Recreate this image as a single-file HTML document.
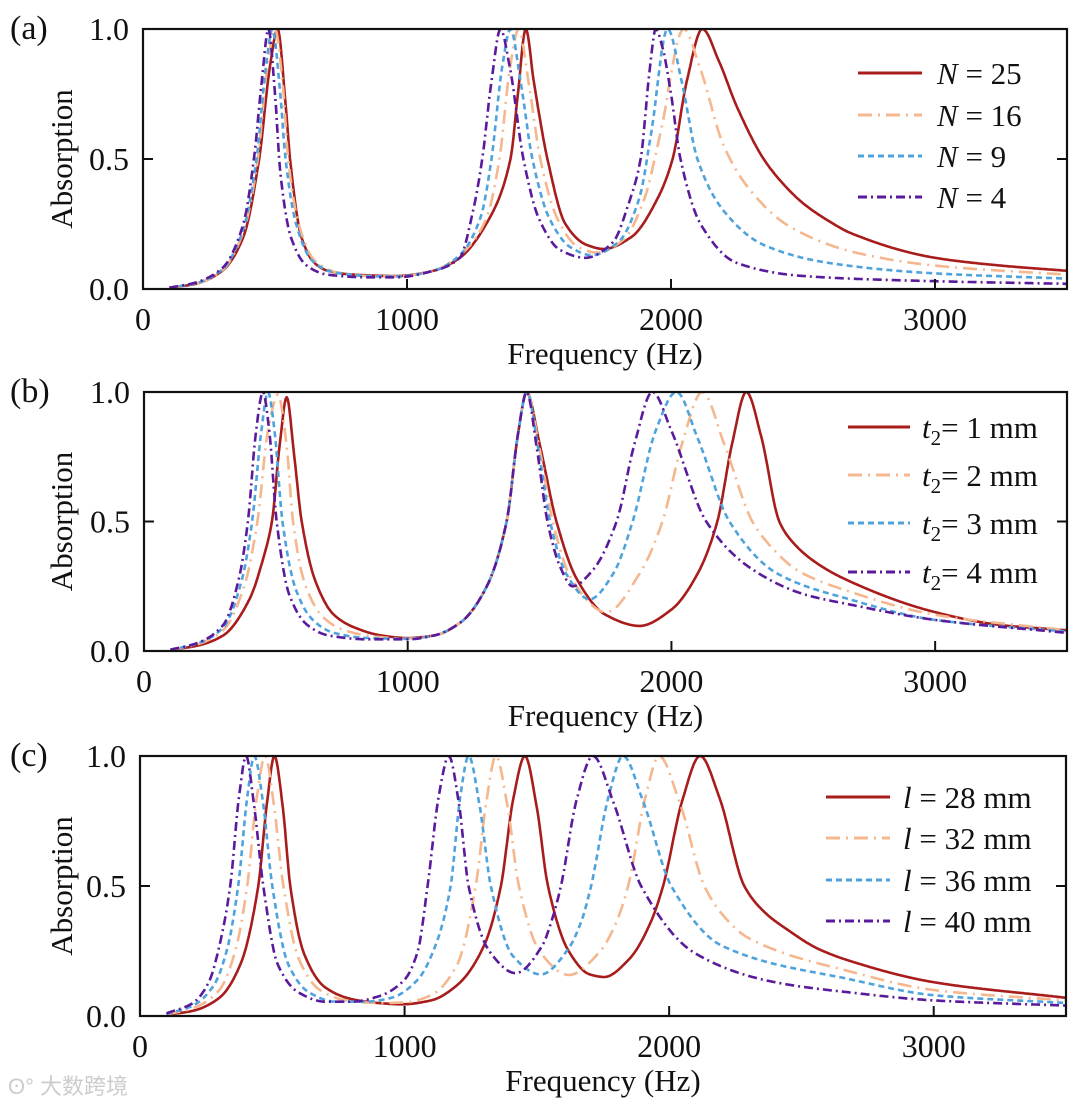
<!DOCTYPE html>
<html><head><meta charset="utf-8">
<style>
html,body{margin:0;padding:0;background:#fff;}
svg text{font-family:"Liberation Serif",serif;fill:#111;}
</style></head>
<body>
<svg id="fig" width="1080" height="1106" viewBox="0 0 1080 1106" xmlns="http://www.w3.org/2000/svg">
<text x="8" y="1094" font-size="22" style="fill:#ccc;font-family:'Liberation Sans','Noto Sans CJK SC',sans-serif">ʘ° 大数跨境</text>
</svg>
<script>
// ----- Panel (a): N -----
const aNames = ["N = 25","N = 16","N = 9","N = 4"];
const aN25 = [[100,.005],[200,.02],[300,.07],[380,.2],[440,.5],[480,.85],[510,1],[540,.71],[557,.5],[600,.2],[650,.1],[700,.07],[800,.055],[960,.05],[1100,.07],[1200,.12],[1300,.25],[1392,.5],[1420,.75],[1450,1],[1480,.8],[1532,.5],[1600,.25],[1680,.17],[1745,.154],[1850,.2],[1950,.35],[2006,.5],[2060,.8],[2119,1],[2180,.88],[2250,.7],[2351,.5],[2420,.41],[2500,.33],[2600,.26],[2681,.215],[3000,.12],[3250,.09],[3500,.07]];
const aN16 = [[100,.005],[200,.02],[300,.072],[380,.22],[435,.5],[470,.85],[500,1],[530,.78],[550,.5],[590,.25],[650,.11],[730,.065],[850,.05],[960,.048],[1100,.07],[1200,.13],[1300,.27],[1350,.5],[1390,.85],[1423,1],[1460,.8],[1505,.5],[1570,.27],[1650,.16],[1720,.14],[1820,.19],[1900,.35],[1960,.6],[2048,1],[2110,.85],[2200,.55],[2300,.38],[2450,.24],[2700,.14],[3000,.09],[3500,.055]];
const aN9 = [[100,.005],[200,.022],[300,.075],[380,.23],[430,.5],[465,.85],[490,1],[520,.75],[540,.5],[580,.25],[640,.11],[720,.065],[850,.05],[960,.048],[1100,.07],[1200,.13],[1280,.28],[1320,.5],[1360,.85],[1392,1],[1430,.8],[1475,.5],[1540,.27],[1620,.16],[1700,.13],[1800,.18],[1880,.35],[1925,.6],[1987,1],[2040,.8],[2100,.5],[2200,.3],[2350,.17],[2600,.1],[3000,.06],[3500,.04]];
const aN4 = [[100,.005],[200,.025],[300,.08],[380,.25],[420,.5],[450,.8],[475,1],[500,.75],[520,.45],[560,.2],[620,.09],[700,.055],[850,.045],[960,.045],[1100,.07],[1200,.12],[1250,.3],[1285,.5],[1320,.8],[1354,1],[1390,.85],[1441,.5],[1500,.27],[1580,.15],[1676,.12],[1780,.18],[1840,.33],[1885,.5],[1920,.85],[1942,1],[1970,.92],[2000,.75],[2036,.5],[2112,.25],[2250,.1],[2500,.05],[3000,.03],[3500,.02]];
// ----- Panel (b): t2 -----
const bNames = ["1 mm","2 mm","3 mm","4 mm"];
const bT1 = [[100,.005],[200,.02],[300,.06],[400,.2],[450,.35],[485,.5],[515,.8],[541,.98],[570,.75],[598,.5],[650,.27],[720,.14],[800,.09],[900,.06],[1000,.05],[1100,.06],[1200,.11],[1300,.25],[1375,.5],[1420,.85],[1451,1],[1500,.8],[1564,.5],[1640,.28],[1750,.14],[1879,.097],[2000,.16],[2100,.3],[2174,.5],[2230,.8],[2284,1],[2340,.83],[2409,.5],[2460,.42],[2550,.34],[2674,.27],[3000,.15],[3250,.1],[3500,.08]];
const bT2 = [[100,.005],[200,.025],[300,.08],[380,.25],[430,.5],[470,.85],[508,.99],[540,.8],[565,.5],[610,.26],[680,.13],[760,.08],[880,.055],[1000,.048],[1100,.06],[1200,.11],[1300,.25],[1375,.5],[1420,.85],[1451,1],[1500,.78],[1550,.5],[1620,.28],[1753,.15],[1880,.3],[1966,.5],[2040,.8],[2117,1],[2200,.8],[2307,.5],[2380,.4],[2480,.31],[2674,.23],[3000,.14],[3500,.08]];
const bT3 = [[100,.005],[200,.028],[300,.09],[370,.27],[410,.5],[445,.85],[470,1],[495,.85],[525,.5],[575,.24],[640,.12],[720,.07],[850,.05],[1000,.047],[1100,.06],[1200,.11],[1300,.25],[1375,.5],[1420,.85],[1451,1],[1495,.78],[1540,.5],[1600,.3],[1690,.2],[1780,.3],[1853,.5],[1940,.85],[2019,1],[2100,.82],[2220,.5],[2400,.3],[2674,.2],[3000,.12],[3500,.075]];
const bT4 = [[100,.005],[200,.03],[300,.1],[360,.28],[394,.5],[425,.85],[451,1],[475,.85],[503,.5],[550,.22],[620,.1],[700,.06],[850,.045],[1000,.045],[1100,.06],[1200,.11],[1300,.25],[1375,.5],[1420,.85],[1451,1],[1490,.78],[1530,.5],[1580,.32],[1625,.25],[1700,.31],[1792,.5],[1860,.8],[1928,1],[2000,.85],[2132,.5],[2300,.32],[2500,.22],[2674,.18],[3000,.12],[3500,.07]];
// ----- Panel (c): l -----
const cNames = ["l = 28 mm","l = 32 mm","l = 36 mm","l = 40 mm"];
const cL28 = [[100,.005],[200,.02],[300,.07],[380,.2],[447,.5],[480,.82],[508,1],[540,.8],[568,.5],[620,.24],[700,.11],[800,.065],[900,.05],[990,.045],[1100,.06],[1200,.12],[1300,.27],[1364,.5],[1410,.83],[1455,1],[1500,.8],[1542,.5],[1620,.25],[1700,.16],[1754,.15],[1850,.22],[1930,.36],[1977,.5],[2050,.83],[2117,1],[2190,.84],[2284,.5],[2360,.4],[2450,.33],[2560,.26],[2689,.21],[3000,.13],[3500,.07]];
const cL32 = [[100,.006],[200,.03],[300,.1],[360,.25],[405,.5],[440,.83],[473,1],[505,.82],[542,.5],[600,.22],[680,.1],[780,.06],[900,.05],[1000,.052],[1100,.08],[1200,.2],[1269,.5],[1310,.83],[1345,1],[1390,.8],[1432,.5],[1510,.25],[1621,.158],[1740,.25],[1800,.36],[1845,.5],[1910,.84],[1962,1],[2040,.82],[2133,.5],[2210,.38],[2300,.3],[2689,.17],[3000,.1],[3500,.06]];
const cL36 = [[100,.008],[200,.04],[280,.12],[330,.26],[371,.5],[405,.84],[432,1],[465,.82],[500,.5],[560,.2],[640,.09],[740,.055],[850,.055],[950,.07],[1050,.14],[1120,.28],[1174,.5],[1210,.84],[1242,1],[1285,.8],[1326,.5],[1410,.23],[1515,.16],[1620,.26],[1670,.37],[1705,.5],[1770,.84],[1826,1],[1900,.83],[2008,.5],[2200,.27],[2689,.14],[3000,.08],[3500,.05]];
const cL40 = [[100,.01],[200,.05],[260,.13],[300,.27],[341,.5],[375,.85],[401,1],[430,.82],[466,.5],[520,.2],[600,.09],[700,.055],[800,.055],[900,.075],[1000,.14],[1050,.25],[1087,.5],[1130,.85],[1167,1],[1205,.82],[1242,.5],[1320,.25],[1420,.165],[1520,.27],[1560,.38],[1591,.5],[1650,.83],[1712,1],[1790,.82],[1894,.5],[2100,.24],[2400,.13],[2689,.09],[3000,.06],[3500,.04]];
const xTicks = [0,1000,2000,3000];
const yTicks = [0,0.5,1];
const yTickLabels = ["0.0","0.5","1.0"];

const NS="http://www.w3.org/2000/svg";
const svg=document.getElementById('fig');
const styles=[
 {c:"#a81c1c",d:"",w:2.6},
 {c:"#f4b78e",d:"14 6 2 6",w:2.6},
 {c:"#4fa3dc",d:"6 4",w:2.6},
 {c:"#5a1a9c",d:"9 4 2 4",w:2.6}
];
function mk(tag,attrs,parent){const e=document.createElementNS(NS,tag);for(const k in attrs)e.setAttribute(k,attrs[k]);(parent||svg).appendChild(e);return e;}
function monotone(pts){
 const n=pts.length,x=pts.map(p=>p[0]),y=pts.map(p=>p[1]);
 const d=[],m=new Array(n);
 for(let i=0;i<n-1;i++)d.push((y[i+1]-y[i])/(x[i+1]-x[i]));
 m[0]=d[0];m[n-1]=d[n-2];
 for(let i=1;i<n-1;i++){
  if(d[i-1]*d[i]<=0)m[i]=0;
  else{const h0=x[i]-x[i-1],h1=x[i+1]-x[i];const w1=2*h1+h0,w2=h1+2*h0;m[i]=(w1+w2)/(w1/d[i-1]+w2/d[i]);}
 }
 const out=[];
 for(let i=0;i<n-1;i++){
  const h=x[i+1]-x[i],steps=Math.max(4,Math.ceil(h/4));
  for(let s=0;s<steps;s++){
   const t=s/steps,t2=t*t,t3=t2*t;
   const v=(2*t3-3*t2+1)*y[i]+(t3-2*t2+t)*h*m[i]+(-2*t3+3*t2)*y[i+1]+(t3-t2)*h*m[i+1];
   out.push([x[i]+t*h,v]);
  }
 }
 out.push([x[n-1],y[n-1]]);
 return out;
}
function panel(id,L,R,T,B,label,series,legend){
 const xs=f=>L+(f/3500)*(R-L);
 const ys=v=>B-v*(B-T);
 const g=mk('g',{});
 
 
 const cp=mk('clipPath',{id:'clip'+id},g);
 mk('rect',{x:L,y:T-1,width:R-L,height:B-T+1},cp);
 series.forEach((s,i)=>{
  const st=styles[i];
  const d='M'+monotone(s).map(q=>xs(q[0]).toFixed(1)+','+ys(q[1]).toFixed(1)).join('L');
  const p=mk('path',{d:d,fill:'none',stroke:st.c,'stroke-width':st.w,'stroke-dasharray':st.d,'stroke-linejoin':'round','clip-path':'url(#clip'+id+')'},g);
  
  
 });
 const fr=mk('rect',{x:L,y:T,width:R-L,height:B-T,fill:'none',stroke:'#111','stroke-width':2.2},g);
 
 
 xTicks.forEach(t=>{
  const x=xs(t);
  mk('line',{x1:x,y1:B,x2:x,y2:B-10,stroke:'#111','stroke-width':2},g);
  const tx=mk('text',{x:x,y:B+41,'font-size':32,'text-anchor':'middle'},g);
  tx.textContent=String(t);
  
  
 });
 yTicks.forEach((t,i)=>{
  const y=ys(t);
  mk('line',{x1:L,y1:y,x2:L+10,y2:y,stroke:'#111','stroke-width':2},g);
  mk('line',{x1:R,y1:y,x2:R-10,y2:y,stroke:'#111','stroke-width':2},g);
  const tx=mk('text',{x:L-14,y:y+11,'font-size':32,'text-anchor':'end'},g);
  tx.textContent=yTickLabels[i];
  
  
 });
 const xl=mk('text',{x:(L+R)/2,y:B+75,'font-size':31,'text-anchor':'middle'},g);
 xl.textContent='Frequency (Hz)';
 
 
 const cy=(T+B)/2;
 const yl=mk('text',{x:0,y:0,'font-size':31,'text-anchor':'middle',transform:'translate(72,'+cy+') rotate(-90)'},g);
 yl.textContent='Absorption';
 
 
 const pl=mk('text',{x:10,y:T+10,'font-size':34},g);
 pl.textContent=label;
 
 
 legend(g);
}
function legendRows(g,x1,x2,tx,ys,fill){
 ys.forEach((y,i)=>{
  const st=styles[i];
  const ln=mk('line',{x1:x1,y1:y,x2:x2,y2:y,stroke:st.c,'stroke-width':st.w+0.4,'stroke-dasharray':st.d},g);
  
  
  const t=mk('text',{x:tx,y:y+11,'font-size':31},g);
  fill(t,i);
  
  
 });
}
panel('a',143,1067,29,289,'(a)',[aN25,aN16,aN9,aN4],g=>{
 legendRows(g,858,922,937,[73,115,156,197],(t,i)=>{
  const parts=aNames[i].split(' = ');
  t.innerHTML='<tspan font-style="italic">'+parts[0]+'</tspan> = '+parts[1];
 });
});
panel('b',144,1067,392,651,'(b)',[bT1,bT2,bT3,bT4],g=>{
 legendRows(g,848,910,922,[427,475,523,572],(t,i)=>{
  t.innerHTML='<tspan font-style="italic">t</tspan><tspan font-size="21" dy="7">2</tspan><tspan dy="-7">= '+bNames[i]+'</tspan>';
 });
});
panel('c',140,1066,756,1016,'(c)',[cL28,cL32,cL36,cL40],g=>{
 legendRows(g,826,890,903,[797,838,880,921],(t,i)=>{
  const parts=cNames[i].split(' = ');
  t.innerHTML='<tspan font-style="italic">'+parts[0]+'</tspan> = '+parts[1];
 });
});
</script>
</body></html>
